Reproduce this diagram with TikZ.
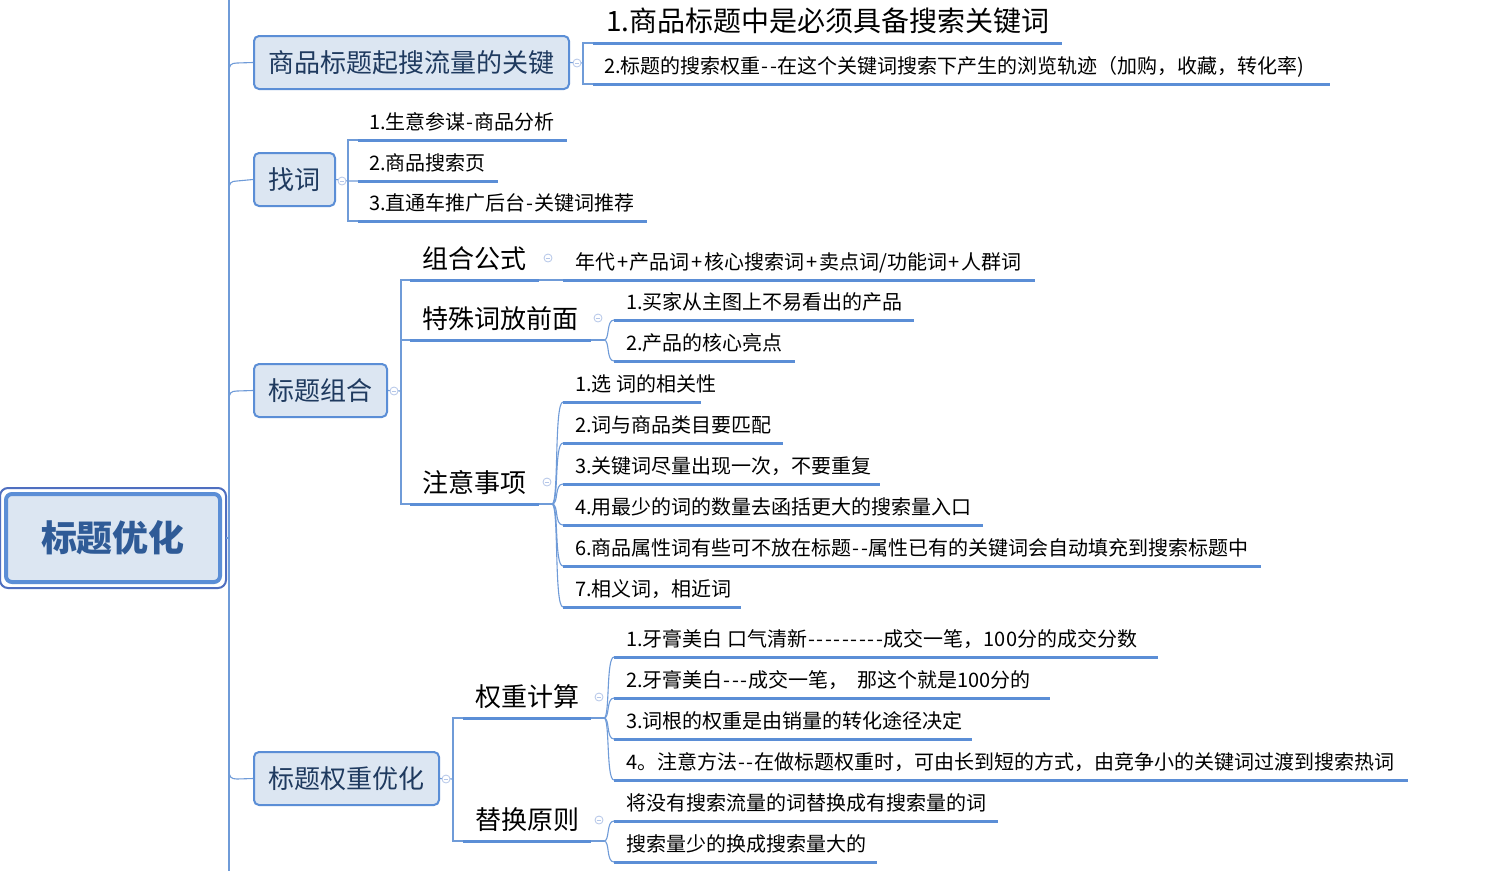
\documentclass[tikz,border=0pt]{standalone}
\usepackage{fontspec}
\setmainfont{Noto Sans CJK SC}
\newcommand\hy{\makebox[8.5pt]{-}}
\newcommand\pl{\kern1.8pt+\kern1.8pt}
\definecolor{boxfill}{HTML}{DCE6F2}
\definecolor{boxdraw}{HTML}{5B8ED6}
\definecolor{boxtext}{HTML}{1F3A5F}
\definecolor{roottext}{HTML}{2F5B97}
\definecolor{rootouter}{HTML}{4F6FC0}
\definecolor{connc}{HTML}{6F9BD8}
\definecolor{ulc}{HTML}{5B8ED6}
\definecolor{togc}{HTML}{B4C6E8}
\begin{document}
\begin{tikzpicture}[x=1pt,y=-1pt,
  conn/.style={draw=connc, line width=1.1pt},
  uline/.style={draw=ulc, line width=3pt},
  bbox/.style={draw=boxdraw, line width=2pt, fill=boxfill, rounded corners=5pt,
    minimum height=53pt, inner sep=0pt, text=boxtext, font=\fontsize{26pt}{30pt}\selectfont},
  rootbox/.style={draw=boxdraw, line width=4pt, fill=boxfill, rounded corners=6pt,
    minimum width=214pt, minimum height=88pt, inner sep=0pt, text=roottext,
    font=\fontsize{36pt}{40pt}\selectfont\bfseries},
  leaf/.style={anchor=base west, inner sep=0pt, text=black, font=\fontsize{20pt}{24pt}\selectfont},
  bigleaf/.style={anchor=base west, inner sep=0pt, text=black, font=\fontsize{28pt}{32pt}\selectfont},
  sub/.style={anchor=base west, inner sep=0pt, text=black, font=\fontsize{26pt}{30pt}\selectfont},
  tog/.style={circle, draw=togc, line width=0.8pt, fill=white, minimum size=8pt, inner sep=0pt,
    path picture={\draw[togc, line width=0.8pt] ([xshift=-2.3pt]path picture bounding box.center) -- ([xshift=2.3pt]path picture bounding box.center);}}
]
\useasboundingbox (0,0) rectangle (1508,871);
\fill[white] (0,0) rectangle (1508,871);

% ---------- trunk ----------
\coordinate (trTop) at (229,0);
\coordinate (trBot) at (229,871);
\draw[conn] (trTop) -- (trBot);

% ---------- root ----------
\node[rootbox] (root) at (113,538) {标题优化};
\draw[draw=rootouter, line width=2pt, rounded corners=8pt]
  ([shift={(-4,-4)}]root.north west) rectangle ([shift={(4,4)}]root.south east);
\coordinate (rj) at (229,538);
\draw[conn] ([xshift=4pt]root.east) -- (rj);

% ---------- branch boxes ----------
\node[bbox, minimum width=315pt] (b1) at (411.5,62.5) {商品标题起搜流量的关键};
\node[bbox, minimum width=81pt]  (b2) at (294.5,179.5) {找词};
\node[bbox, minimum width=133pt] (b3) at (320.5,390.5) {标题组合};
\node[bbox, minimum width=185pt] (b4) at (346.5,778.5) {标题权重优化};

\draw[conn] (229,72) .. controls (229,65) and (231,63) .. (237,63) -- (b1.west);
\draw[conn] (229,190) .. controls (229,183) and (231,181) .. (237,181) -- (b2.west);
\draw[conn] (229,400) .. controls (229,393) and (231,391) .. (237,391) -- (b3.west);
\draw[conn] (229,770) .. controls (229,777) and (231,779) .. (237,779) -- (b4.west);

% ---------- branch 1 ----------
\coordinate (u11) at (593,43);
\coordinate (u12) at (593,84);
\coordinate (j1) at (583,63);
\draw[conn] (b1.east) -- (j1);
\draw[conn] (u11) -- (583,43) -- (583,84) -- (u12);
\draw[uline] (u11) -- (1062,43);
\draw[uline] (u12) -- (1330,84);
\node[bigleaf] (t11) at (606,31) {1.商品标题中是必须具备搜索关键词};
\node[leaf] (t12) at (604,73) {2.标题的搜索权重\hy\hy 在这个关键词搜索下产生的浏览轨迹（加购，收藏，转化率)};
\node[tog] (g1) at (577,63) {};

% ---------- branch 2 ----------
\coordinate (u21) at (358,140);
\coordinate (u22) at (358,181);
\coordinate (u23) at (358,221);
\coordinate (j2) at (348,181);
\draw[conn] (b2.east) -- (j2) -- (u22);
\draw[conn] (u21) -- (348,140) -- (348,221) -- (u23);
\draw[uline] (u21) -- (567,140);
\draw[uline] (u22) -- (498,181);
\draw[uline] (u23) -- (647,221);
\node[leaf] (t21) at (369,129) {1.生意参谋\hy 商品分析};
\node[leaf] (t22) at (369,170) {2.商品搜索页};
\node[leaf] (t23) at (369,210) {3.直通车推广后台\hy 关键词推荐};
\node[tog] (g2) at (342,181) {};

% ---------- branch 3 ----------
\coordinate (u31) at (410,280);
\coordinate (u32) at (410,340);
\coordinate (u33) at (410,504);
\coordinate (j3) at (401,391);
\draw[conn] (b3.east) -- (j3);
\draw[conn] (u31) -- (401,280) -- (401,504) -- (u33);
\draw[conn] (401,340) -- (u32);
\draw[uline] (u31) -- (539,280);
\draw[uline] (u32) -- (591,340);
\draw[uline] (u33) -- (539,504);
\node[sub] (s31) at (422,268) {组合公式};
\node[sub] (s32) at (422,328) {特殊词放前面};
\node[sub] (s33) at (422,492) {注意事项};
\node[tog] (g3) at (394,391) {};
\node[tog] (g31) at (548,258) {};
\node[tog] (g32) at (598,318) {};
\node[tog] (g33) at (547,482) {};

% 组合公式 child
\coordinate (u311) at (563,280);
\draw[conn] (539,280) -- (u311);
\draw[uline] (u311) -- (1035,280);
\node[leaf] (t311) at (575,269) {年代\pl 产品词\pl 核心搜索词\pl 卖点词/功能词\pl 人群词};

% 特殊词放前面 children
\coordinate (j32) at (604,340);
\coordinate (u321) at (614,320);
\coordinate (u322) at (614,361);
\draw[conn] (591,340) -- (j32);
\draw[conn] (j32) .. controls (610,340) and (606,320) .. (u321);
\draw[conn] (j32) .. controls (610,340) and (606,361) .. (u322);
\draw[uline] (u321) -- (914,320);
\draw[uline] (u322) -- (795,361);
\node[leaf] (t321) at (626,309) {1.买家从主图上不易看出的产品};
\node[leaf] (t322) at (626,350) {2.产品的核心亮点};

% 注意事项 children
\coordinate (j33) at (552,504);
\draw[conn] (539,504) -- (j33);
\coordinate (u331) at (563,402);
\coordinate (u332) at (563,443);
\coordinate (u333) at (563,484);
\coordinate (u334) at (563,525);
\coordinate (u335) at (563,566);
\coordinate (u336) at (563,607);
\foreach \u in {u331,u332,u333,u334,u335,u336}
  \draw[conn] (j33) .. controls (559,504) and (554,0|-\u) .. (\u);
\draw[uline] (u331) -- (701,402);
\draw[uline] (u332) -- (783,443);
\draw[uline] (u333) -- (880,484);
\draw[uline] (u334) -- (983,525);
\draw[uline] (u335) -- (1261,566);
\draw[uline] (u336) -- (741,607);
\node[leaf] (t331) at (575,391) {1.选 词的相关性};
\node[leaf] (t332) at (575,432) {2.词与商品类目要匹配};
\node[leaf] (t333) at (575,473) {3.关键词尽量出现一次，不要重复};
\node[leaf] (t334) at (575,514) {4.用最少的词的数量去函括更大的搜索量入口};
\node[leaf] (t335) at (575,555) {6.商品属性词有些可不放在标题\hy\hy 属性已有的关键词会自动填充到搜索标题中};
\node[leaf] (t336) at (575,596) {7.相义词，相近词};

% ---------- branch 4 ----------
\coordinate (u41) at (463,718);
\coordinate (u42) at (463,841);
\coordinate (j4) at (453,779);
\draw[conn] (b4.east) -- (j4);
\draw[conn] (u41) -- (453,718) -- (453,841) -- (u42);
\draw[uline] (u41) -- (591,718);
\draw[uline] (u42) -- (591,841);
\node[sub] (s41) at (475,706) {权重计算};
\node[sub] (s42) at (475,829) {替换原则};
\node[tog] (g4) at (446,779) {};
\node[tog] (g41) at (599,697) {};
\node[tog] (g42) at (599,820) {};

% 权重计算 children
\coordinate (j41) at (604,718);
\draw[conn] (591,718) -- (j41);
\coordinate (u411) at (614,657);
\coordinate (u412) at (614,698);
\coordinate (u413) at (614,739);
\coordinate (u414) at (614,780);
\draw[conn] (j41) .. controls (610,718) and (606,657) .. (u411);
\draw[conn] (j41) .. controls (610,718) and (606,698) .. (u412);
\draw[conn] (j41) .. controls (610,718) and (606,739) .. (u413);
\draw[conn] (j41) .. controls (610,718) and (606,780) .. (u414);
\draw[uline] (u411) -- (1158,657);
\draw[uline] (u412) -- (1050,698);
\draw[uline] (u413) -- (972,739);
\draw[uline] (u414) -- (1408,780);
\node[leaf] (t411) at (626,646) {1.牙膏美白 口气清新\hy\hy\hy\hy\hy\hy\hy\hy\hy 成交一笔，100分的成交分数};
\node[leaf] (t412) at (626,687) {2.牙膏美白\hy\hy\hy 成交一笔，\ \ 那这个就是100分的};
\node[leaf] (t413) at (626,728) {3.词根的权重是由销量的转化途径决定};
\node[leaf] (t414) at (626,769) {4。注意方法\hy\hy 在做标题权重时，可由长到短的方式，由竞争小的关键词过渡到搜索热词};

% 替换原则 children
\coordinate (j42) at (604,841);
\draw[conn] (591,841) -- (j42);
\coordinate (u421) at (614,821);
\coordinate (u422) at (614,862);
\draw[conn] (j42) .. controls (610,841) and (606,821) .. (u421);
\draw[conn] (j42) .. controls (610,841) and (606,862) .. (u422);
\draw[uline] (u421) -- (998,821);
\draw[uline] (u422) -- (877,862);
\node[leaf] (t421) at (626,810) {将没有搜索流量的词替换成有搜索量的词};
\node[leaf] (t422) at (626,851) {搜索量少的换成搜索量大的};
\end{tikzpicture}
\end{document}
